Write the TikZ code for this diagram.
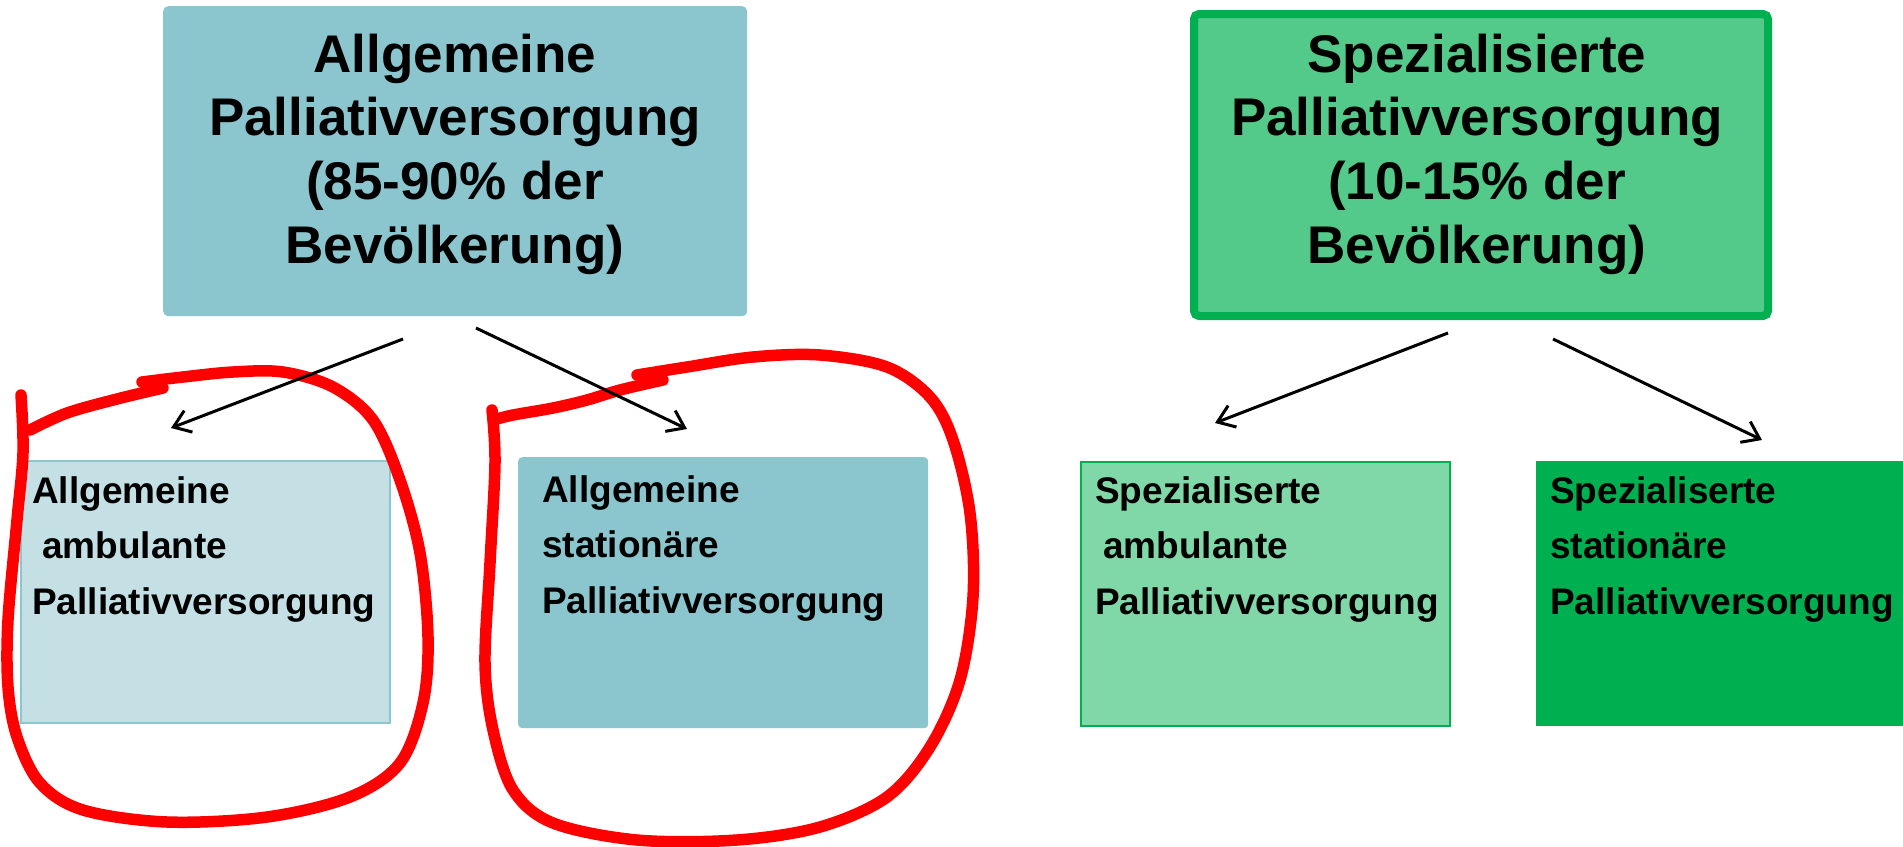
\documentclass[tikz,border=0pt]{standalone}
\usepackage{fontspec}
\setmainfont{Liberation Sans}
\usetikzlibrary{arrows.meta}
\definecolor{tealA}{HTML}{8BC5CD}
\definecolor{tealL}{HTML}{C4E0E4}
\definecolor{grnB}{HTML}{00B050}
\definecolor{grnM}{HTML}{53C98A}
\definecolor{grnL}{HTML}{80D8A8}
\definecolor{redL}{HTML}{FF0000}
\begin{document}
\begin{tikzpicture}[x=1pt,y=-1pt,
  box/.style={inner sep=0pt, anchor=north west},
  bigtext/.style={anchor=base, inner sep=0pt},
  smalltext/.style={anchor=base west, inner sep=0pt},
  conn/.style={line width=3pt, -{Straight Barb[length=16pt,width=23pt]}},
  loop/.style={draw=redL, line width=11.5pt, line cap=round, line join=round}]
\useasboundingbox[fill=white] (0,0) rectangle (1903,846);

% top boxes
\node[box, fill=tealA, rounded corners=5pt, minimum width=584pt, minimum height=310pt] (ga) at (163,6) {};
\node[box, fill=grnM, draw=grnB, line width=8pt, rounded corners=5pt, minimum width=574pt, minimum height=302pt] (gs) at (1190,10) {};

\node[bigtext] (gat) at (455,72) {\parbox[t]{570pt}{\centering\bfseries\fontsize{53}{63.7}\selectfont Allgemeine\\Palliativversorgung\\(85-90\% der\\Bevölkerung)}};
\node[bigtext] (gst) at (1477,72) {\parbox[t]{570pt}{\centering\bfseries\fontsize{53}{63.7}\selectfont Spezialisierte\\Palliativversorgung\\(10-15\% der\\Bevölkerung)}};

% lower boxes
\node[box, fill=tealL, draw=tealA, line width=1.5pt, minimum width=369pt, minimum height=262pt] (aa) at (20,460) {};
\node[box, fill=tealA, rounded corners=4pt, minimum width=410pt, minimum height=271pt] (as) at (518,457) {};
\node[box, fill=grnL, draw=grnB, line width=1.5pt, minimum width=369pt, minimum height=264pt] (sa) at (1080,461) {};
\node[box, fill=grnB, minimum width=370pt, minimum height=265pt] (ss) at (1536,461) {};

\node[smalltext] (aat) at (32,503) {\parbox[t]{400pt}{\raggedright\bfseries\fontsize{37}{55.5}\selectfont Allgemeine\\\hspace*{10pt}ambulante\\Palliativversorgung}};
\node[smalltext] (ast) at (542,502) {\parbox[t]{400pt}{\raggedright\bfseries\fontsize{37}{55.5}\selectfont Allgemeine\\stationäre\\Palliativversorgung}};
\node[smalltext] (sat) at (1095,503) {\parbox[t]{400pt}{\raggedright\bfseries\fontsize{37}{55.5}\selectfont Spezialiserte\\\hspace*{8pt}ambulante\\Palliativversorgung}};
\node[smalltext] (sst) at (1550,503) {\parbox[t]{400pt}{\raggedright\bfseries\fontsize{37}{55.5}\selectfont Spezialiserte\\stationäre\\Palliativversorgung}};

% red hand-drawn loops
\draw[loop] plot[smooth, tension=0.55] coordinates {(21,395) (23,453) (17,520) (8,620) (8,687) (17,737) (40,783) (83,810) (167,822) (267,817) (350,797) (400,763) (423,703) (428,637) (420,553) (400,480) (373,420) (333,387) (283,372) (233,372) (183,377) (142,382)};
\draw[loop] plot[smooth, tension=0.55] coordinates {(163,388) (117,399) (67,413) (30,430)};
\draw[loop] plot[smooth, tension=0.55] coordinates {(492,410) (495,463) (490,563) (485,663) (493,730) (513,790) (553,823) (637,840) (737,840) (820,827) (887,797) (930,747) (960,680) (973,597) (970,513) (953,440) (930,397) (887,367) (820,355) (753,357) (687,367) (637,375)};
\draw[loop] plot[smooth, tension=0.55] coordinates {(663,380) (620,390) (587,400) (553,408) (513,415) (497,419)};

% connectors
\coordinate (a1) at (403,339);
\coordinate (a1e) at (171,428);
\coordinate (a2) at (476,328);
\coordinate (a2e) at (687,429);
\coordinate (s1) at (1448,333);
\coordinate (s1e) at (1215,423);
\coordinate (s2) at (1553,339);
\coordinate (s2e) at (1762,440);
\draw[conn] (a1) -- (a1e);
\draw[conn] (a2) -- (a2e);
\draw[conn] (s1) -- (s1e);
\draw[conn] (s2) -- (s2e);
\end{tikzpicture}
\end{document}
